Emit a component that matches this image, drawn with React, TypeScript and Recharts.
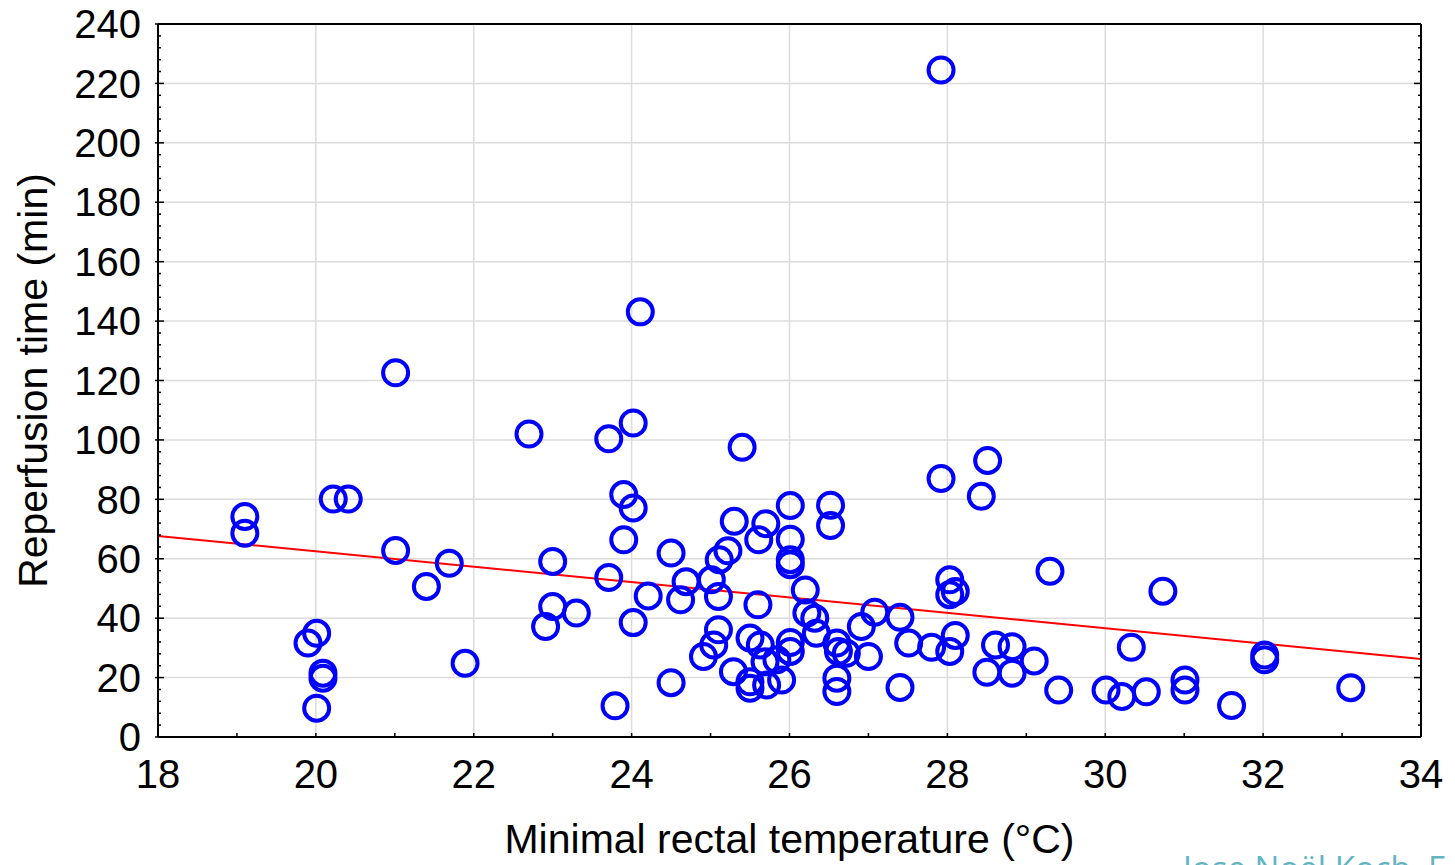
import React from "react";
import { ScatterChart, Scatter, XAxis, YAxis, ReferenceLine } from "recharts";

// Minimal rectal temperature (°C) and reperfusion time (min)
const temperature = [
  19.1, 19.1, 19.9, 20.01, 20.09, 20.09, 20.01, 20.22, 20.41, 21.01,
  21.01, 21.4, 21.69, 21.89, 22.7, 23.0, 23.0, 22.91, 23.3, 23.71,
  24.02, 24.11, 23.9, 24.02, 23.9, 24.5, 23.71, 24.21, 24.69, 24.62,
  24.02, 24.5, 23.79, 25.4, 25.3, 25.7, 25.61, 26.01, 26.52, 26.52,
  26.01, 26.01, 26.01, 25.22, 25.11, 25.01, 25.1, 26.2, 25.6, 26.22,
  26.32, 26.34, 25.1, 25.04, 24.91, 25.5, 25.63, 26.01, 26.01, 26.6,
  26.62, 26.72, 27.0, 25.29, 25.69, 25.84, 25.5, 25.5, 25.71, 25.9,
  26.6, 26.6, 26.91, 27.08, 27.4, 27.4, 27.51, 27.8, 28.03, 28.1,
  28.03, 28.1, 28.03, 27.92, 28.51, 28.43, 27.92, 28.61, 28.82, 28.5,
  28.82, 29.1, 29.3, 29.41, 30.01, 30.21, 30.52, 30.33, 30.73, 31.01,
  31.01, 31.6, 32.02, 32.02, 33.11,
];

const reperfusion = [
  74.2, 68.6, 31.6, 34.9, 21.5, 19.8, 9.7, 80.1, 80.1, 122.6,
  62.8, 50.7, 58.5, 24.8, 102.0, 59.1, 43.9, 37.2, 41.7, 100.4,
  105.7, 143.1, 81.6, 77.1, 66.4, 61.9, 53.7, 47.5, 52.3, 46.2,
  38.5, 18.3, 10.5, 97.5, 72.6, 71.8, 66.4, 77.9, 78.0, 71.2,
  66.6, 59.7, 58.0, 62.7, 59.7, 52.9, 47.3, 49.5, 44.5, 41.7,
  40.0, 34.9, 36.1, 31.0, 27.1, 33.3, 31.0, 31.8, 28.8, 31.6,
  28.8, 28.2, 27.1, 22.0, 25.3, 26.0, 18.6, 16.4, 17.5, 19.2,
  19.8, 15.3, 37.2, 42.0, 40.3, 16.7, 31.6, 30.2, 28.8, 34.2,
  52.9, 49.0, 47.9, 87.0, 93.1, 81.0, 224.5, 31.0, 30.4, 21.8,
  21.5, 25.6, 55.8, 15.8, 15.8, 13.6, 15.2, 30.2, 49.1, 19.2,
  15.8, 10.6, 27.6, 26.0, 16.6,
];

// linear fit drawn in red
const regressionIntercept = 114.3;
const regressionSlope = -2.59;

const xMajorTicks = [18, 20, 22, 24, 26, 28, 30, 32, 34];
const xMinorTicks = [18, 19, 20, 21, 22, 23, 24, 25, 26, 27, 28, 29, 30, 31, 32, 33, 34];
const yMajorTicks = [0, 20, 40, 60, 80, 100, 120, 140, 160, 180, 200, 220, 240];
const yMinorTicks = [
  0, 4, 8, 12, 16, 20, 24, 28, 32, 36, 40, 44, 48, 52, 56, 60, 64, 68, 72, 76,
  80, 84, 88, 92, 96, 100, 104, 108, 112, 116, 120, 124, 128, 132, 136, 140,
  144, 148, 152, 156, 160, 164, 168, 172, 176, 180, 184, 188, 192, 196, 200,
  204, 208, 212, 216, 220, 224, 228, 232, 236, 240,
];

const points = temperature.map((t, i) => ({ x: t, y: reperfusion[i] }));
const xMin = xMajorTicks[0];
const xMax = xMajorTicks[xMajorTicks.length - 1];
const fitLine = [
  { x: xMin, y: regressionIntercept + regressionSlope * xMin },
  { x: xMax, y: regressionIntercept + regressionSlope * xMax },
];

const FONT = '"Liberation Sans", Arial, Helvetica, sans-serif';
const TICK_SIZE = 40;
const LABEL_SIZE = 41;
const BOTTOM_GAP = 23;
const LEFT_GAP = 17;

const BottomTick = (props: any) => {
  const { x, y, payload } = props;
  const v = payload.value;
  const axisY = y - BOTTOM_GAP;
  return (
    <g>
      <line x1={x} x2={x} y1={axisY} y2={axisY - 4} stroke="#000" strokeWidth={1.5} />
      {xMajorTicks.includes(v) && (
        <text x={x} y={y} dy="0.71em" textAnchor="middle" fontSize={TICK_SIZE} fontFamily={FONT} fill="#000">
          {v}
        </text>
      )}
    </g>
  );
};

const LeftTick = (props: any) => {
  const { x, y, payload } = props;
  const v = payload.value;
  const axisX = x + LEFT_GAP;
  const major = yMajorTicks.includes(v);
  return (
    <g>
      <line
        x1={major ? axisX - 3 : axisX}
        x2={major ? axisX + 6 : axisX + 3}
        y1={y}
        y2={y}
        stroke="#000"
        strokeWidth={1.5}
      />
      {major && (
        <text x={x} y={y} dy="0.355em" textAnchor="end" fontSize={TICK_SIZE} fontFamily={FONT} fill="#000">
          {v}
        </text>
      )}
    </g>
  );
};

const TopTick = (props: any) => {
  const { x, y } = props;
  return <line x1={x} x2={x} y1={y} y2={y + 4} stroke="#000" strokeWidth={1.5} />;
};

const RightTick = (props: any) => {
  const { x, y, payload } = props;
  const major = yMajorTicks.includes(payload.value);
  return <line x1={x} x2={x - (major ? 7 : 3)} y1={y} y2={y} stroke="#000" strokeWidth={1.5} />;
};

const Ring = (props: any) => {
  const { cx, cy } = props;
  return <circle cx={cx} cy={cy} r={12.5} fill="none" stroke="#0000ff" strokeWidth={4} />;
};

const frame = { stroke: "#000", strokeWidth: 2 };

export default function App() {
  return (
    <div style={{ position: "absolute", left: 0, top: 0, width: 1455, height: 865, background: "#fff", overflow: "hidden" }}>
      <ScatterChart width={1455} height={865} margin={{ top: 23, right: 33, bottom: 0, left: 0 }}>
        <XAxis
          xAxisId={0}
          dataKey="x"
          type="number"
          domain={[xMin, xMax]}
          allowDataOverflow
          ticks={xMinorTicks}
          interval={0}
          height={128}
          tickSize={0}
          tickMargin={BOTTOM_GAP}
          tickLine={false}
          axisLine={frame}
          tick={<BottomTick />}
          label={{
            value: "Minimal rectal temperature (°C)",
            position: "insideBottom",
            offset: 12,
            style: { fontSize: LABEL_SIZE, fontFamily: FONT, fill: "#000" },
          }}
        />
        <XAxis
          xAxisId="top"
          orientation="top"
          type="number"
          domain={[xMin, xMax]}
          allowDataOverflow
          ticks={xMinorTicks}
          interval={0}
          height={1}
          tickSize={0}
          tickMargin={0}
          tickLine={false}
          axisLine={frame}
          tick={<TopTick />}
        />
        <YAxis
          yAxisId={0}
          dataKey="y"
          type="number"
          domain={[0, 240]}
          allowDataOverflow
          ticks={yMinorTicks}
          interval={0}
          width={158}
          tickSize={0}
          tickMargin={LEFT_GAP}
          tickLine={false}
          axisLine={frame}
          tick={<LeftTick />}
          label={{
            value: "Reperfusion time (min)",
            angle: -90,
            position: "insideLeft",
            offset: 32,
            style: { textAnchor: "middle", fontSize: LABEL_SIZE, fontFamily: FONT, fill: "#000" },
          }}
        />
        <YAxis
          yAxisId="right"
          orientation="right"
          type="number"
          domain={[0, 240]}
          allowDataOverflow
          ticks={yMinorTicks}
          interval={0}
          width={1}
          tickSize={0}
          tickMargin={0}
          tickLine={false}
          axisLine={frame}
          tick={<RightTick />}
        />
        {xMajorTicks.map((v) => (
          <ReferenceLine key={`gx-${v}`} x={v} xAxisId={0} yAxisId={0} stroke="#dcdcdc" strokeWidth={1.5} />
        ))}
        {yMajorTicks.map((v) => (
          <ReferenceLine key={`gy-${v}`} y={v} xAxisId={0} yAxisId={0} stroke="#dcdcdc" strokeWidth={1.5} />
        ))}
        <Scatter data={points} xAxisId={0} yAxisId={0} shape={<Ring />} isAnimationActive={false} />
        <ReferenceLine segment={fitLine} xAxisId={0} yAxisId={0} stroke="#ff0000" strokeWidth={2} />
      </ScatterChart>
      <svg width={1455} height={865} style={{ position: "absolute", left: 0, top: 0, pointerEvents: "none" }}>
        <text x={1183} y={880} fontSize={33} fontFamily='"Open Sans", "Noto Sans", sans-serif' fill="#62b4c1">
          Jose Noël Koch, F
        </text>
      </svg>
    </div>
  );
}
